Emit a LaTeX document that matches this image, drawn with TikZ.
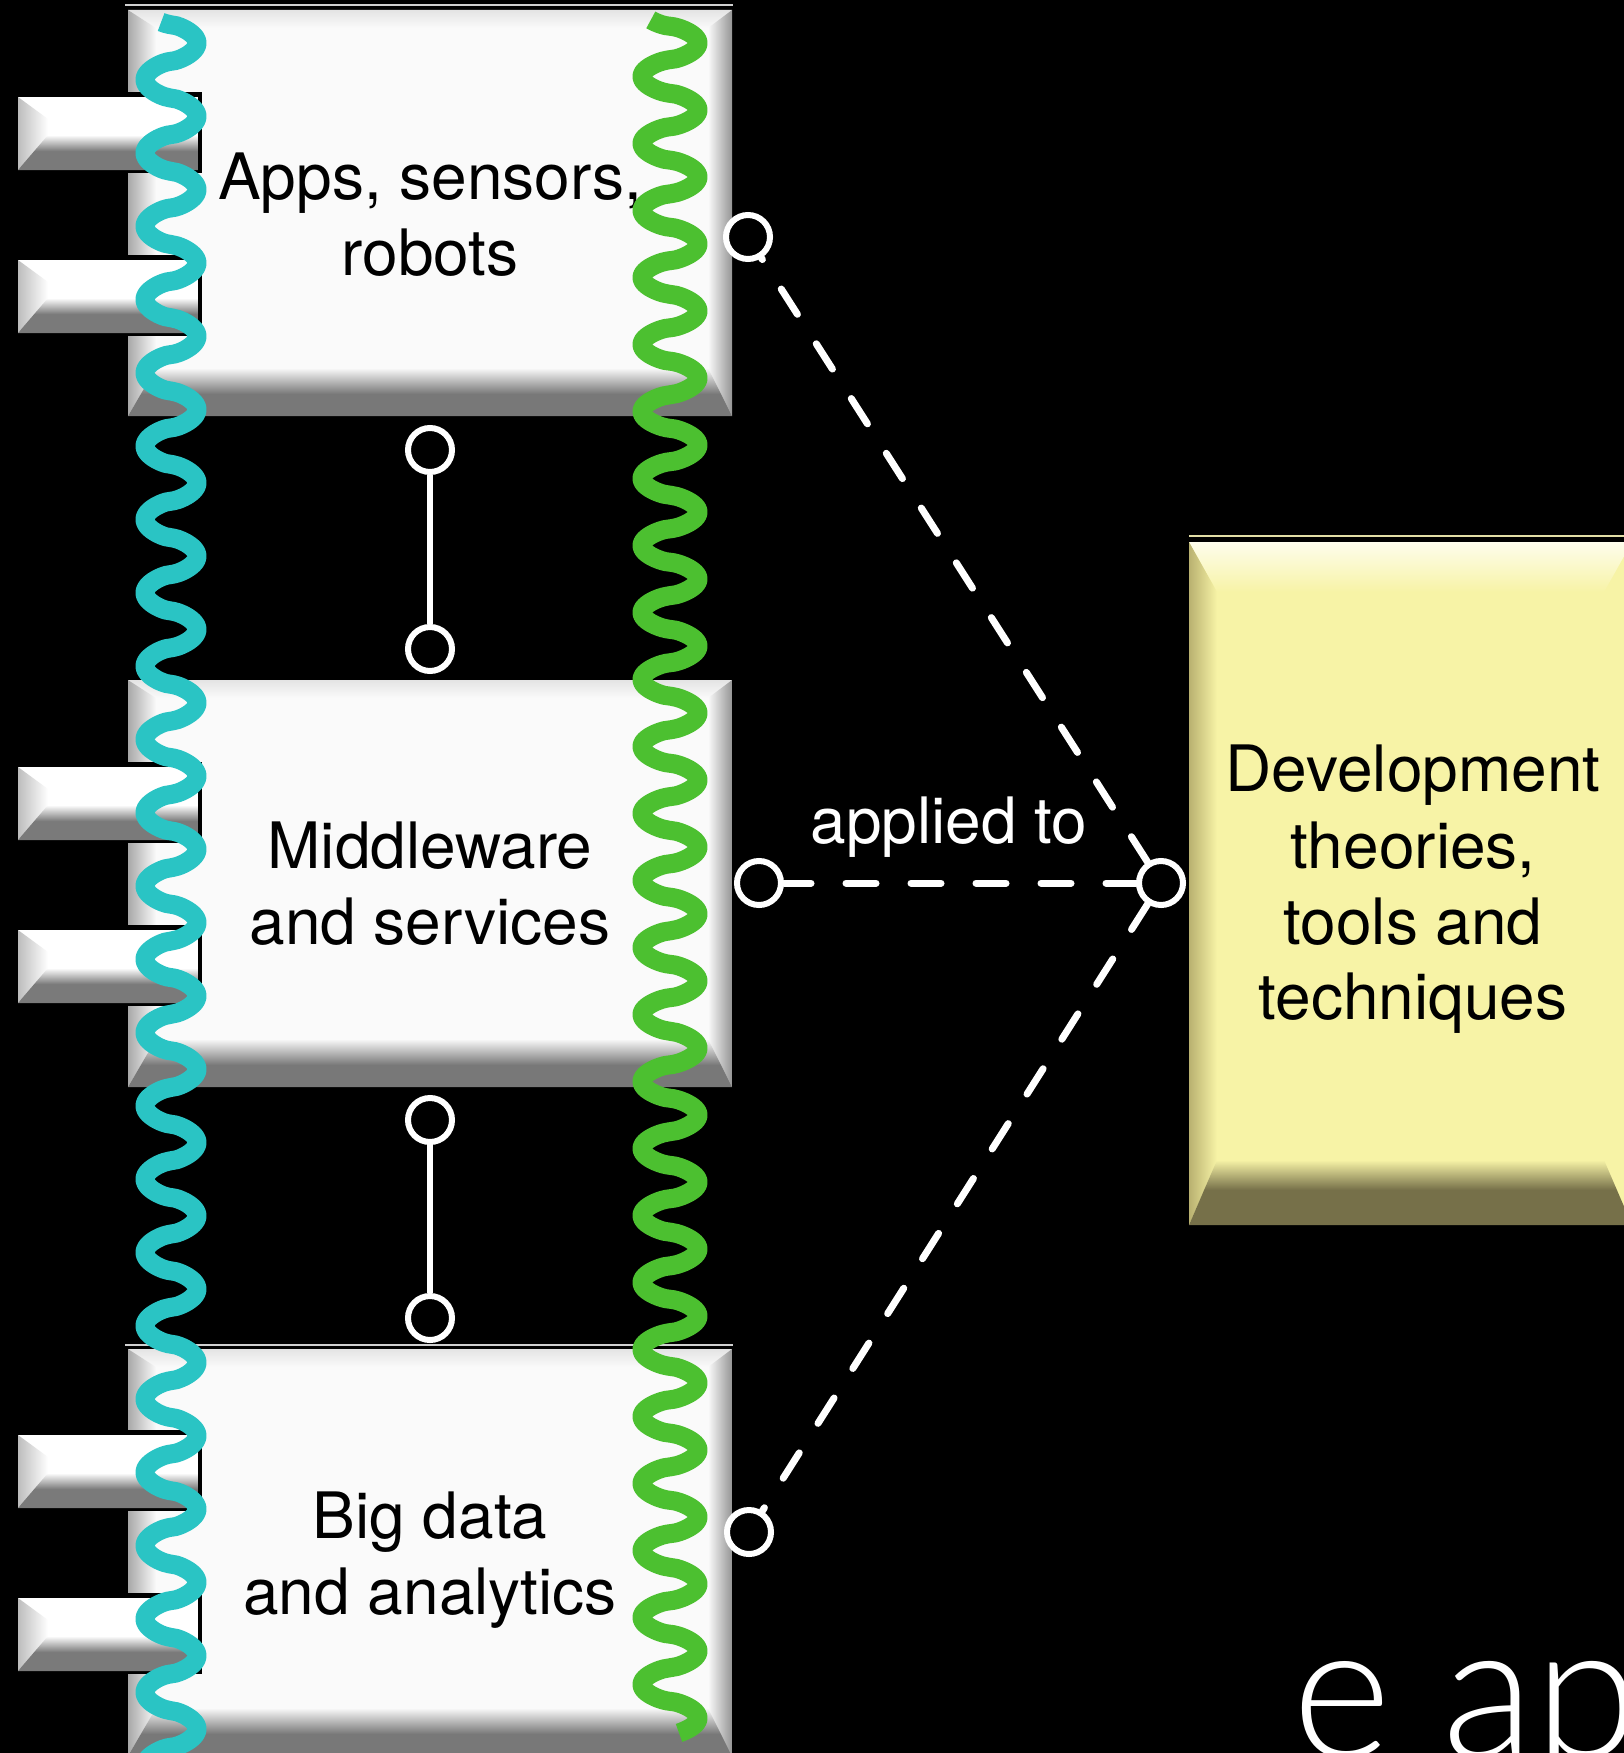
\documentclass[tikz,border=0pt]{standalone}
\usepackage{fontspec}
\setmainfont{TeX Gyre Heros}
\newfontfamily\lightfont{Lato Light}
\definecolor{wwhite}{HTML}{FAFAFA}
\definecolor{wgray}{HTML}{787878}
\definecolor{wleft}{HTML}{A8A8A8}
\definecolor{wright}{HTML}{959595}
\definecolor{wtop}{HTML}{E4E4E4}
\definecolor{wline}{HTML}{D0D0D0}
\definecolor{tabl}{HTML}{BDBDBD}
\definecolor{tabgray}{HTML}{7A7A7A}
\definecolor{yfill}{HTML}{F7F3A6}
\definecolor{ytop}{HTML}{FEFDEC}
\definecolor{yleft}{HTML}{B9B170}
\definecolor{yolive}{HTML}{767049}
\definecolor{yline}{HTML}{E2DEA6}
\definecolor{cyanw}{HTML}{2AC4C4}
\definecolor{greenw}{HTML}{4CC030}
\pgfdeclareverticalshading{wbottom}{100bp}{color(0bp)=(wgray); color(25bp)=(wgray); color(48bp)=(wgray); color(75bp)=(wwhite); color(100bp)=(wwhite)}
\pgfdeclareverticalshading{ybottom}{100bp}{color(0bp)=(yolive); color(25bp)=(yolive); color(52bp)=(yolive); color(75bp)=(yfill); color(100bp)=(yfill)}
\pgfdeclareverticalshading{tabbot}{100bp}{color(0bp)=(tabgray); color(25bp)=(tabgray); color(52bp)=(tabgray); color(75bp)=(white); color(100bp)=(white)}
\newcommand{\drawWbox}[4]{%
  \fill[wwhite] (#1,#2) rectangle (#3,#4);
  \shade[top color=wtop, bottom color=wwhite] (#1,#2) -- ({#1+28},{#2+18}) -- ({#3-24},{#2+18}) -- (#3,#2) -- cycle;
  \shade[left color=wleft, right color=wwhite] (#1,#2) -- ({#1+28},{#2+18}) -- ({#1+28},{#4-48}) -- (#1,#4) -- cycle;
  \shade[left color=wwhite, right color=wright] (#3,#2) -- ({#3-24},{#2+18}) -- ({#3-24},{#4-48}) -- (#3,#4) -- cycle;
  \shade[shading=wbottom] (#1,#4) -- ({#1+28},{#4-48}) -- ({#3-24},{#4-48}) -- (#3,#4) -- cycle;
}
\newcommand{\drawTab}[1]{%
  \fill[black] (128,{#1-5}) rectangle (202,{#1+76});
  \fill[white] (18,#1) rectangle (198,{#1+73});
  \shade[left color=tabl, right color=white] (18,#1) -- (48,{#1+22}) -- (48,{#1+42}) -- (18,{#1+73}) -- cycle;
  \shade[shading=tabbot] (18,{#1+73}) -- (48,{#1+38}) -- (198,{#1+38}) -- (198,{#1+73}) -- cycle;
}
\tikzset{
  port/.style={circle, draw=white, fill=black, line width=6pt, minimum size=44pt, inner sep=0pt},
  solidconn/.style={draw=white, line width=6pt},
  dashconn/.style={draw=white, line width=7pt, line cap=round, dash pattern=on 30pt off 35pt},
  boxtext/.style={font=\fontsize{64}{76}\selectfont, text=black, inner sep=0pt, anchor=base},
  wavecyan/.style={draw=cyanw, line width=19pt, line join=round},
  wavegreen/.style={draw=greenw, line width=19pt, line join=round}
}
\begin{document}
\begin{tikzpicture}[x=1pt,y=-1pt]
\useasboundingbox (0,0) rectangle (1624,1753);
\fill[black] (0,0) rectangle (1624,1753);
\clip (0,0) rectangle (1624,1753);
% white boxes
\draw[line width=2pt, wline] (125,5) -- (733,5);
\drawWbox{128}{10}{732}{416}
\drawWbox{128}{680}{732}{1087}
\draw[line width=2pt, wline] (125,1345) -- (733,1345);
\drawWbox{128}{1349}{732}{1756}
% tabs
\drawTab{97}
\drawTab{260}
\drawTab{767}
\drawTab{930}
\drawTab{1435}
\drawTab{1598}
% yellow box
\draw[line width=2pt, yline] (1189,536) -- (1624,536);
\fill[yfill] (1189,542) rectangle (1632,1225);
\shade[top color=ytop, bottom color=yfill] (1189,542) -- (1217,592) -- (1604,592) -- (1632,542) -- cycle;
\shade[left color=yleft, right color=yfill] (1189,542) -- (1217,592) -- (1217,1160) -- (1189,1225) -- cycle;
\shade[shading=ybottom] (1189,1225) -- (1217,1160) -- (1604,1160) -- (1632,1225) -- cycle;
% texts
\node[boxtext] (tA1) at (430,199) {Apps, sensors,};
\node[boxtext] (tA2) at (430,275) {robots};
\node[boxtext] (tB1) at (430,868) {Middleware};
\node[boxtext] (tB2) at (430,944) {and services};
\node[boxtext] (tC1) at (430,1538) {Big data};
\node[boxtext] (tC2) at (430,1614) {and analytics};
\node[boxtext] (tD1) at (1413,791) {Development};
\node[boxtext] (tD2) at (1413,868) {theories,};
\node[boxtext] (tD3) at (1413,944) {tools and};
\node[boxtext] (tD4) at (1413,1019) {techniques};
\node[boxtext, text=white] (lab) at (949,843) {applied to};
\node[font=\lightfont\fontsize{190}{200}\selectfont, text=white, anchor=base west, inner sep=0pt] (big) at (1292,1757) {e ap};
% ports
\node[port] (cA1) at (430,450) {};
\node[port] (cA2) at (430,649) {};
\node[port] (cB1) at (430,1120) {};
\node[port] (cB2) at (430,1318) {};
\node[port] (pA) at (748,237) {};
\node[port] (pB) at (759,883) {};
\node[port] (pC) at (749,1532) {};
\node[port] (pD) at (1161,883) {};
\draw[solidconn] (cA1) -- (cA2);
\draw[solidconn] (cB1) -- (cB2);
\draw[dashconn] (pD) -- (pA);
\draw[dashconn] (pD) -- (pB);
\draw[dashconn] (pD) -- (pC);
% waves
\draw[wavecyan] plot[domain=-13:8530, samples=1400] ({171+26*sign(sin(\x))*pow(abs(sin(\x)),0.65)}, {43+(\x-90)*0.20361});
\draw[wavegreen] plot[domain=-34:9170, samples=1500] ({670+28*sign(sin(\x))*pow(abs(sin(\x)),0.65)}, {43+(\x-90)*0.18611});
\end{tikzpicture}
\end{document}
